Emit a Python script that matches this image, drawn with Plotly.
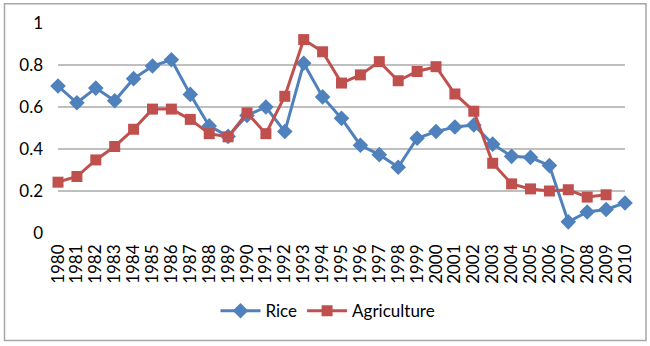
import plotly.graph_objects as go

years = list(range(1980, 2011))
rice = [0.70, 0.62, 0.69, 0.63, 0.735, 0.795, 0.825, 0.66, 0.51, 0.46,
        0.56, 0.60, 0.483, 0.808, 0.648, 0.546, 0.418, 0.373, 0.313, 0.451,
        0.483, 0.505, 0.514, 0.423, 0.365, 0.360, 0.321, 0.053, 0.10, 0.112,
        0.143]
agriculture = [0.242, 0.269, 0.348, 0.412, 0.494, 0.590, 0.590, 0.541, 0.473, 0.458,
               0.572, 0.473, 0.651, 0.921, 0.863, 0.714, 0.753, 0.816, 0.725, 0.769,
               0.792, 0.662, 0.580, 0.332, 0.234, 0.210, 0.200, 0.206, 0.171, 0.182,
               None]
tick_labels = [str(y) for y in years]
y_ticks = [0, 0.2, 0.4, 0.6, 0.8, 1]

BLUE = "#4F81BD"
RED = "#C0504D"
FONT = "Lato"

fig = go.Figure()
fig.add_trace(go.Scatter(
    x=years, y=rice, name="Rice", mode="lines+markers",
    line=dict(color=BLUE, width=3),
    marker=dict(symbol="diamond", size=12, color=BLUE),
    cliponaxis=False,
))
fig.add_trace(go.Scatter(
    x=years, y=agriculture, name="Agriculture", mode="lines+markers",
    line=dict(color=RED, width=3),
    marker=dict(symbol="square", size=11, color=RED),
    cliponaxis=False, connectgaps=False,
))

# plot area in pixels: x 58..625, y 21..233
L, R, T, B = 58, 625, 21, 233
W, H = R - L, B - T
def px_x(p):
    return (p - L) / W
def px_y(p):
    return (B - p) / H

fig.add_shape(type="rect", xref="paper", yref="paper",
              x0=px_x(4.5), x1=px_x(646), y0=px_y(341.5), y1=px_y(1.5),
              line=dict(color="#a6a6a6", width=1.5), layer="below")

fig.update_layout(
    width=650, height=346,
    margin=dict(l=L, r=650 - R, t=T, b=346 - B),
    paper_bgcolor="white", plot_bgcolor="white",
    font=dict(family=FONT, size=16, color="#000000"),
    showlegend=True,
    legend=dict(orientation="h", x=px_x(328), y=px_y(312),
                xanchor="center", yanchor="middle",
                font=dict(family=FONT, size=17), itemwidth=40,
                traceorder="normal"),
    xaxis=dict(range=[1980, 2010], tickmode="array", tickvals=years,
               ticktext=tick_labels, tickangle=-90, showgrid=False,
               zeroline=False, showline=False, ticks="",
               ticklabelstandoff=7,
               tickfont=dict(family=FONT, size=17)),
    yaxis=dict(range=[0, 1], tickmode="array", tickvals=y_ticks,
               ticktext=["0", "0.2", "0.4", "0.6", "0.8", "1"],
               showgrid=True, gridcolor="#bfbfbf", gridwidth=2,
               zeroline=False, showline=False, ticks="",
               ticklabelstandoff=14,
               tickfont=dict(family=FONT, size=17)),
)
fig.write_html("out.html")
